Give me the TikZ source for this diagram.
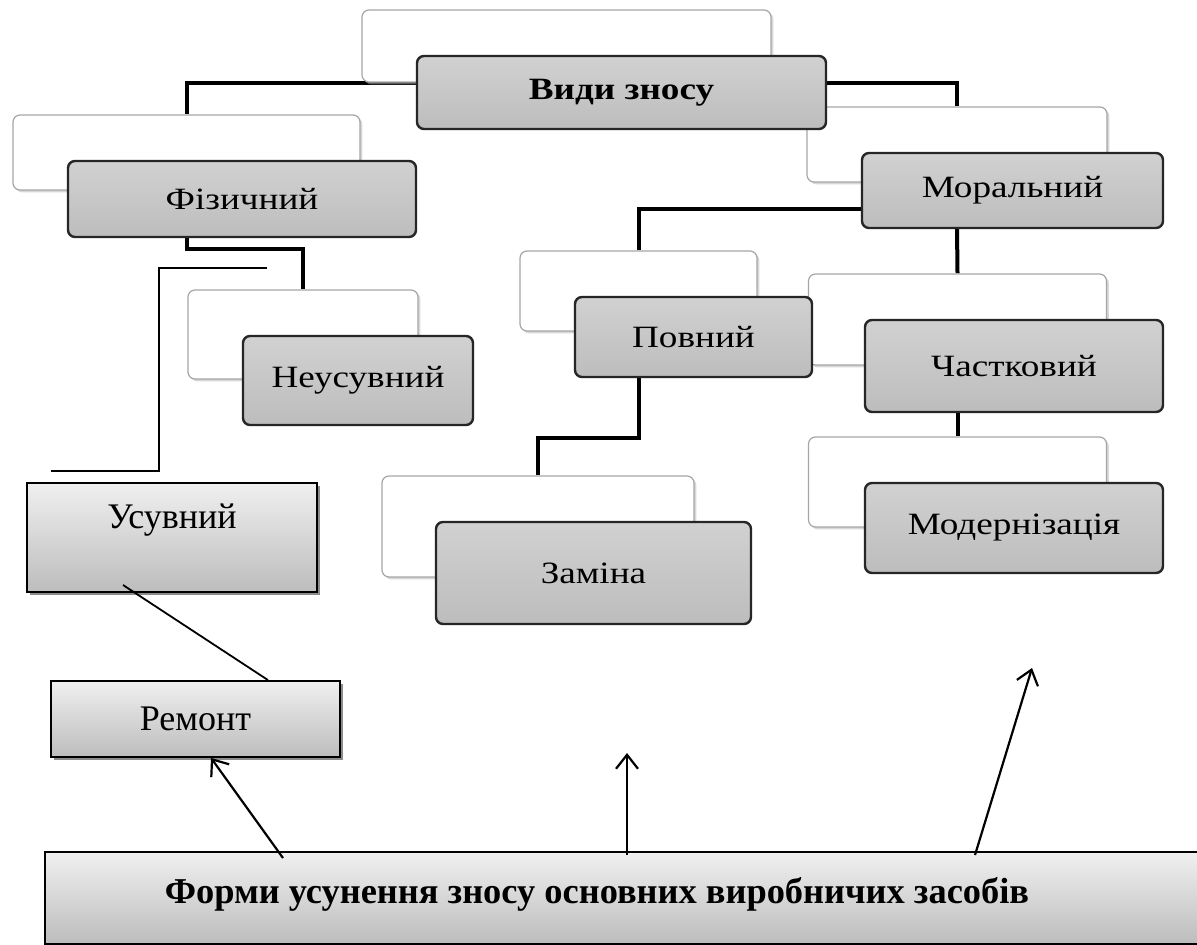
\documentclass[tikz,border=0pt]{standalone}
\usepackage{fontspec}
\setmainfont{Liberation Serif}
\newfontfamily\treefont[FakeStretch=1.2]{Liberation Serif}
\usetikzlibrary{arrows.meta,shadows}
\pgfdeclarelayer{bg}
\pgfsetlayers{bg,main}
\tikzset{
  whitebox/.style={draw=black!35, line width=0.6pt, fill=white, rounded corners=3.5pt,
    drop shadow={shadow xshift=1.2pt, shadow yshift=-1.2pt, fill=black!30, opacity=0.5}},
  greybox/.style={draw=black!85, line width=1.2pt, rounded corners=3.5pt,
    top color=black!18, bottom color=black!26, font=\treefont\fontsize{15.5}{18}\selectfont,
    inner sep=0pt},
  plainbox/.style={draw=black, line width=0.9pt, top color=black!6, bottom color=black!26,
    drop shadow={shadow xshift=1.3pt, shadow yshift=-1.3pt, fill=black!45, opacity=1}},
  conn/.style={line width=2pt, black},
  thin/.style={line width=0.9pt, black},
  arr/.style={line width=1.1pt, black, -{Straight Barb[length=7pt,width=11pt,line width=1.1pt]}},
}
\begin{document}
\begin{tikzpicture}[x=0.5pt,y=-0.5pt]
\useasboundingbox (0,0) rectangle (1197,945);

% white boxes
\node[whitebox, minimum width=204.5pt, minimum height=36pt] (topW) at (566.5,46) {};
\node[whitebox, minimum width=173.5pt, minimum height=37.5pt] (fizW) at (186.5,152.5) {};
\node[whitebox, minimum width=115pt, minimum height=44.5pt] (neuW) at (303,334.5) {};
\node[whitebox, minimum width=150pt, minimum height=37.5pt] (morW) at (957,144.5) {};
\node[whitebox, minimum width=118.5pt, minimum height=40pt] (povW) at (638.5,291) {};
\node[whitebox, minimum width=149pt, minimum height=45.5pt] (chaW) at (957.5,319.5) {};
\node[whitebox, minimum width=149pt, minimum height=45pt] (modW) at (957.5,482) {};
\node[whitebox, minimum width=156pt, minimum height=50.5pt] (zamW) at (538,526.5) {};

% grey boxes
\node[greybox, minimum width=204.5pt, minimum height=36.5pt, font=\treefont\bfseries\fontsize{15.5}{18}\selectfont] (vz) at (621.5,92.5) {Види зносу};
\node[greybox, minimum width=174pt, minimum height=38pt] (fiz) at (242,199) {Фізичний};
\node[greybox, minimum width=115pt, minimum height=44.5pt] (neu) at (358,380.5) {Неусувний};
\node[greybox, minimum width=150.5pt, minimum height=37.5pt] (mor) at (1012.5,190.5) {Моральний};
\node[greybox, minimum width=118.5pt, minimum height=40pt] (pov) at (693.5,337) {Повний};
\node[greybox, minimum width=149pt, minimum height=46pt] (cha) at (1014,366) {Частковий};
\node[greybox, minimum width=149pt, minimum height=45pt] (mod) at (1014,528) {Модернізація};
\node[greybox, minimum width=157.5pt, minimum height=51pt] (zam) at (593.5,573) {Заміна};

% connectors behind the boxes
\begin{pgfonlayer}{bg}
\fill[white] (0,0) rectangle (1197,945);
\draw[conn] (vz.west |- 0,83) -| (fizW.north);
\draw[conn] (vz.east |- 0,83) -| (morW.north);
\draw[conn] (fizW.north |- fiz.south) -- ++(0,11) -| (neuW.north);
\draw[conn] (mor.west |- 0,209) -| (povW.north);
\draw[conn] (morW.north |- mor.south) -- (chaW.north);
\draw[conn] (chaW.north |- cha.south) -- (modW.north);
\draw[conn] (povW.north |- pov.south) -- ++(0,60) -| (zamW.north);
\end{pgfonlayer}

% thin polyline
\coordinate (t1) at (267,268);
\coordinate (t2) at (159,268);
\coordinate (t3) at (159,471);
\coordinate (t4) at (51,471);
\draw[thin] (t1) -- (t2) -- (t3) -- (t4);

% plain boxes
\node[plainbox, minimum width=145pt, minimum height=54.5pt] (usuv) at (172,537.5) {};
\node[font=\fontsize{18}{21}\selectfont] (usuvT) at (172,520) {Усувний};
\node[plainbox, minimum width=144.5pt, minimum height=38pt, font=\fontsize{18}{21}\selectfont] (rem) at (195.5,719) {Ремонт};
\coordinate (u1) at (123,585);
\draw[thin] (u1) -- (rem.north -| 268,0);

\node[plainbox, minimum width=580pt, minimum height=46pt] (forma) at (625,898) {};
\node[font=\bfseries\fontsize{18.2}{21}\selectfont] (formaT) at (597,894) {Форми усунення зносу основних виробничих засобів};

% arrows
\coordinate (a1) at (283,858);
\coordinate (a2) at (627,855);
\coordinate (a2e) at (627,753);
\coordinate (a3) at (975,855);
\coordinate (a3e) at (1032,668);
\draw[arr] (a1) -- (rem.south -| 211,0);
\draw[arr] (a2) -- (a2e);
\draw[arr] (a3) -- (a3e);
\end{tikzpicture}
\end{document}
